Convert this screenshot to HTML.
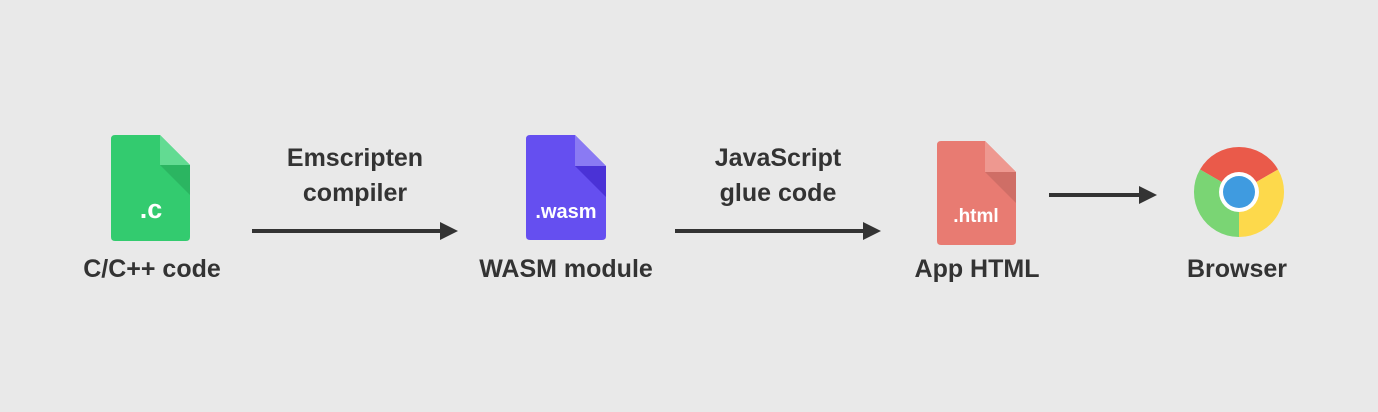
<!DOCTYPE html>
<html><head><style>
body{margin:0;background:#e9e9e9;}
svg{display:block;}
text{font-family:"Liberation Sans",sans-serif;font-weight:bold;fill:#333;}
</style></head><body>
<svg width="1378" height="412" viewBox="0 0 1378 412">
<rect width="1378" height="412" fill="#e9e9e9"/>
<!-- green file -->
<path d="M115 135 H160 L190 165 V237 Q190 241 186 241 H115 Q111 241 111 237 V139 Q111 135 115 135Z" fill="#33cb6f"/>
<path d="M160 165 H190 V195 Z" fill="#2bb561"/>
<path d="M160 135 L190 165 H160Z" fill="#62db92"/>
<text x="151" y="218" font-size="27" style="fill:#fff" text-anchor="middle">.c</text>
<!-- purple file -->
<path d="M530 135 H575 L606 166 V236 Q606 240 602 240 H530 Q526 240 526 236 V139 Q526 135 530 135Z" fill="#654ff0"/>
<path d="M575 166 H606 V197 Z" fill="#4a32d6"/>
<path d="M575 135 L606 166 H575Z" fill="#8a7af3"/>
<text x="566" y="218" font-size="20" style="fill:#fff" text-anchor="middle">.wasm</text>
<!-- red file -->
<path d="M941 141 H985 L1016 172 V241 Q1016 245 1012 245 H941 Q937 245 937 241 V145 Q937 141 941 141Z" fill="#e87b72"/>
<path d="M985 172 H1016 V203 Z" fill="#cf6e66"/>
<path d="M985 141 L1016 172 H985Z" fill="#ee9890"/>
<text x="976" y="222" font-size="19" style="fill:#fff" text-anchor="middle">.html</text>
<!-- chrome -->
<g transform="translate(1239,192)">
<path d="M0 0 L-39 -22.5 A45 45 0 0 1 39 -22.5Z" fill="#ea5a4a"/>
<path d="M0 0 L39 -22.5 A45 45 0 0 1 0 45Z" fill="#fdd94b"/>
<path d="M0 0 L0 45 A45 45 0 0 1 -39 -22.5Z" fill="#7ad574"/>
<circle r="20" fill="#fff"/>
<circle r="16" fill="#3f9be0"/>
</g>
<!-- arrows -->
<g fill="#333" stroke="none">
<rect x="252" y="229" width="190" height="4"/><path d="M440 222 L458 231 L440 240Z"/>
<rect x="675" y="229" width="190" height="4"/><path d="M863 222 L881 231 L863 240Z"/>
<rect x="1049" y="193" width="92" height="4"/><path d="M1139 186 L1157 195 L1139 204Z"/>
</g>
<!-- labels -->
<g font-size="25" text-anchor="middle">
<text x="152" y="277">C/C++ code</text>
<text x="566" y="277">WASM module</text>
<text x="977" y="277">App HTML</text>
<text x="1237" y="277">Browser</text>
<text x="355" y="166">Emscripten</text>
<text x="355" y="201">compiler</text>
<text x="778" y="166">JavaScript</text>
<text x="778" y="201">glue code</text>
</g>
</svg>
</body></html>
